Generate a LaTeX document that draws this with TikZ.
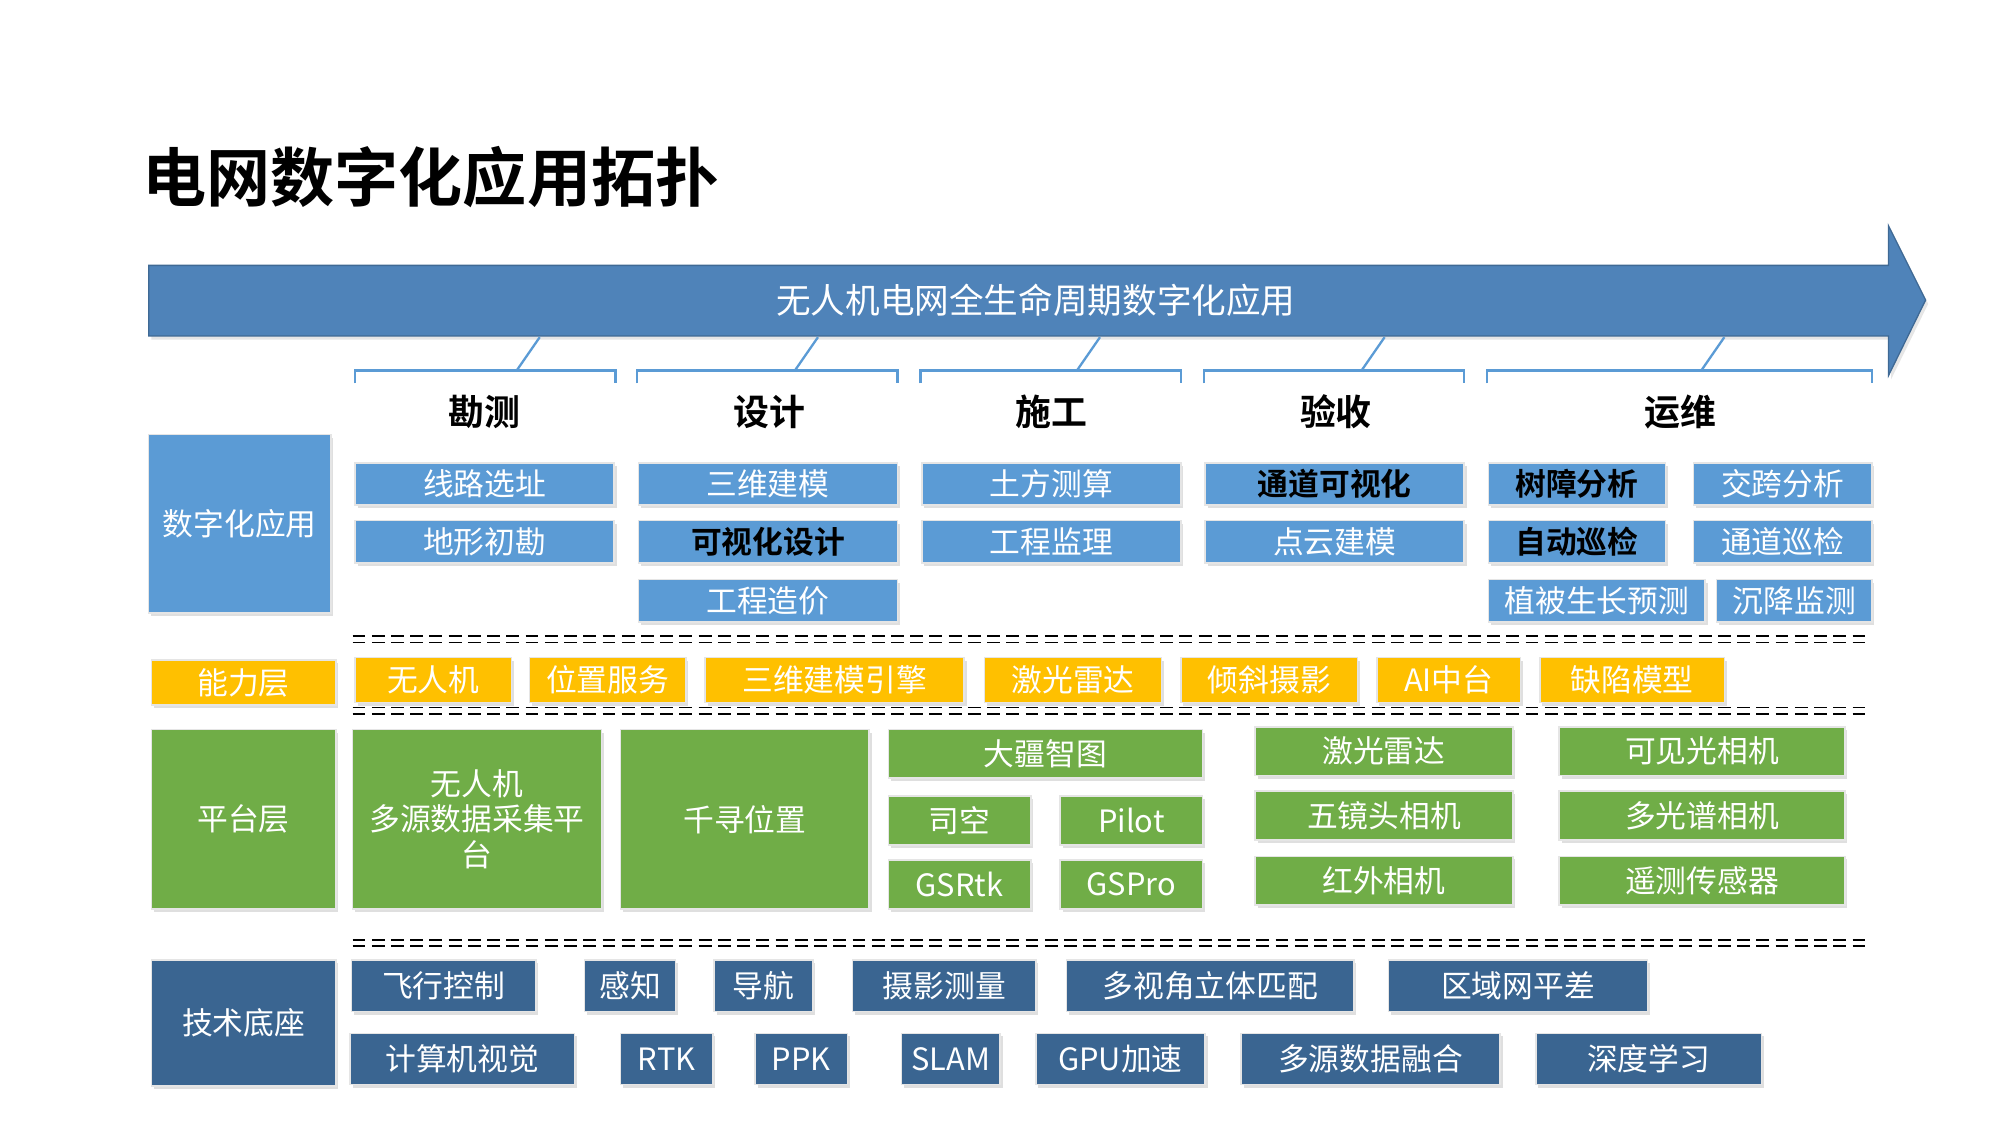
\documentclass[tikz,border=0pt]{standalone}
\usepackage{fontspec}
\setmainfont{Noto Sans CJK SC}[BoldFont={Noto Sans CJK SC Bold}]
\usetikzlibrary{shadows}
\definecolor{arrowblue}{HTML}{4F83B9}
\definecolor{appblue}{HTML}{5B9BD5}
\definecolor{capgold}{HTML}{FFC000}
\definecolor{platgreen}{HTML}{70AD47}
\definecolor{techblue}{HTML}{3A6591}
\tikzset{
  base/.style={inner sep=0pt,align=center,font=\fontsize{12}{14}\selectfont,text=white,
    drop shadow={shadow xshift=1pt,shadow yshift=-1.2pt,opacity=0.25},draw=white!80!gray,line width=0.6pt},
  app/.style={base,fill=appblue},
  appb/.style={base,fill=appblue,text=black,font=\fontsize{12}{14}\selectfont\bfseries},
  capbox/.style={base,fill=capgold},
  plat/.style={base,fill=platgreen},
  tech/.style={base,fill=techblue},
  hdr/.style={font=\fontsize{14}{16}\selectfont\bfseries,text=black},
  brk/.style={draw=appblue,line width=0.9pt},
  dl/.style={draw=black,line width=0.6pt,dash pattern=on 5pt off 2.5pt}
}
\newcommand\bx[7]{\node[#6,minimum width={(#4-#2)*0.5pt},minimum height={(#5-#3)*0.5pt}] (#1) at ({(#2+#4)/2},{(#3+#5)/2}) {#7};}
\begin{document}
\begin{tikzpicture}[x=0.5pt,y=-0.5pt]
\useasboundingbox (0,0) rectangle (1560,877.5);
\node[anchor=west,font=\fontsize{25}{28}\selectfont\bfseries] (title) at (104,138) {电网数字化应用拓扑};
% arrow
\path[fill=arrowblue,draw=arrowblue!80!black,line width=0.5pt,drop shadow={shadow xshift=1pt,shadow yshift=-1.5pt,opacity=0.2}]
 (116,207) -- (1473,207) -- (1473,176) -- (1502,234) -- (1473,293) -- (1473,262) -- (116,262) -- cycle;
\node[text=white,font=\fontsize{13.5}{16}\selectfont] (arrowtext) at (808,234) {无人机电网全生命周期数字化应用};
% brackets
\foreach \a/\b/\s in {277/480/403,497/700/620,718/921/840,939/1142/1062,1160/1460/1327}{
  \draw[brk] (\a,299) -- (\a,289) -- (\b,289) -- (\b,299);
  \draw[brk] (\s,289) -- (\s+18,263);
}
\node[hdr] (h1) at (378,321) {勘测};
\node[hdr] (h2) at (600,321) {设计};
\node[hdr] (h3) at (820,321) {施工};
\node[hdr] (h4) at (1042,321) {验收};
\node[hdr] (h5) at (1311,321) {运维};
% applications
\bx{L1}{116}{339}{258}{478}{app}{数字化应用}
\bx{a1}{277}{361}{479}{394}{app}{线路选址}
\bx{a2}{277}{406}{479}{439}{app}{地形初勘}
\bx{b1}{498}{361}{700}{394}{app}{三维建模}
\bx{b2}{498}{406}{700}{439}{appb}{可视化设计}
\bx{b3}{498}{452}{700}{485}{app}{工程造价}
\bx{c1}{719}{361}{921}{394}{app}{土方测算}
\bx{c2}{719}{406}{921}{439}{app}{工程监理}
\bx{d1}{940}{361}{1142}{394}{appb}{通道可视化}
\bx{d2}{940}{406}{1142}{439}{app}{点云建模}
\bx{e1}{1161}{361}{1299}{394}{appb}{树障分析}
\bx{e2}{1161}{406}{1299}{439}{appb}{自动巡检}
\bx{e3}{1321}{361}{1460}{394}{app}{交跨分析}
\bx{e4}{1321}{406}{1460}{439}{app}{通道巡检}
\bx{e5}{1161}{452}{1330}{485}{app}{植被生长预测}
\bx{e6}{1339}{452}{1460}{485}{app}{沉降监测}
% dashed separators
\foreach \y in {496,501,552,557,733,738}{\draw[dl] (275,\y) -- (1455,\y);}
% capability
\bx{L2}{118}{515}{262}{550}{capbox}{能力层}
\bx{k1}{277}{513}{399}{548}{capbox}{无人机}
\bx{k2}{413}{513}{535}{548}{capbox}{位置服务}
\bx{k3}{550}{513}{752}{548}{capbox}{三维建模引擎}
\bx{k4}{768}{513}{906}{548}{capbox}{激光雷达}
\bx{k5}{921}{513}{1059}{548}{capbox}{倾斜摄影}
\bx{k6}{1074}{513}{1186}{548}{capbox}{AI中台}
\bx{k7}{1201}{513}{1345}{548}{capbox}{缺陷模型}
% platform
\bx{L3}{118}{569}{262}{709}{plat}{平台层}
\bx{p1}{275}{569}{469}{709}{plat}{无人机\\多源数据采集平\\台}
\bx{p2}{484}{569}{678}{709}{plat}{千寻位置}
\bx{p3}{693}{569}{938}{607}{plat}{大疆智图}
\bx{p4}{693}{621}{804}{659}{plat}{司空}
\bx{p5}{827}{621}{938}{659}{plat}{Pilot}
\bx{p6}{693}{671}{804}{709}{plat}{GSRtk}
\bx{p7}{827}{671}{938}{709}{plat}{GSPro}
\bx{q1}{979}{567}{1180}{605}{plat}{激光雷达}
\bx{q2}{979}{617}{1180}{655}{plat}{五镜头相机}
\bx{q3}{979}{668}{1180}{706}{plat}{红外相机}
\bx{r1}{1216}{567}{1439}{605}{plat}{可见光相机}
\bx{r2}{1216}{617}{1439}{655}{plat}{多光谱相机}
\bx{r3}{1216}{668}{1439}{706}{plat}{遥测传感器}
% tech base
\bx{L4}{118}{749}{262}{847}{tech}{技术底座}
\bx{t1}{274}{749}{418}{789}{tech}{飞行控制}
\bx{t2}{456}{749}{527}{789}{tech}{感知}
\bx{t3}{557}{749}{634}{789}{tech}{导航}
\bx{t4}{665}{749}{808}{789}{tech}{摄影测量}
\bx{t5}{832}{749}{1056}{789}{tech}{多视角立体匹配}
\bx{t6}{1083}{749}{1285}{789}{tech}{区域网平差}
\bx{u1}{273}{806}{448}{846}{tech}{计算机视觉}
\bx{u2}{484}{806}{556}{846}{tech}{RTK}
\bx{u3}{589}{806}{661}{846}{tech}{PPK}
\bx{u4}{703}{806}{780}{846}{tech}{SLAM}
\bx{u5}{808}{806}{940}{846}{tech}{GPU加速}
\bx{u6}{968}{806}{1170}{846}{tech}{多源数据融合}
\bx{u7}{1198}{806}{1374}{846}{tech}{深度学习}
\end{tikzpicture}
\end{document}
